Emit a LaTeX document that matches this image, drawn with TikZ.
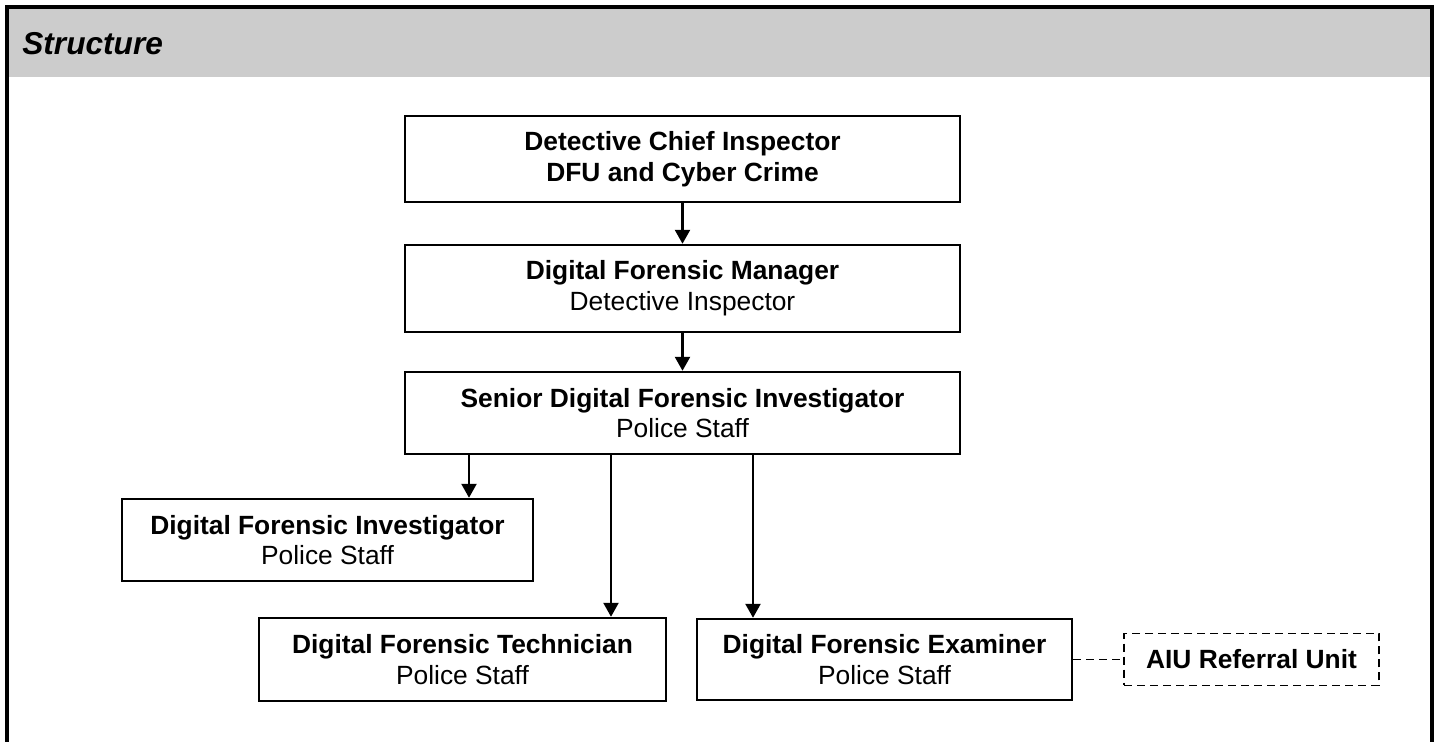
\documentclass[tikz,border=0pt]{standalone}
\usepackage{fontspec}
\setmainfont{Liberation Sans}
\usetikzlibrary{arrows.meta, positioning}
\definecolor{headgray}{RGB}{204, 204, 204}

\begin{document}
\begin{tikzpicture}[x=0.02cm, y=-0.02cm,
  orgbox/.style={draw, line width=1.4pt, align=center, inner sep=0pt, font=\fontsize{15}{17.5}\selectfont},
  linkbox/.style={draw, line width=1.1pt, dash pattern=on 0.16cm off 0.1cm, align=center, inner sep=0pt, font=\fontsize{15}{17.5}\selectfont\bfseries},
  arr/.style={-{Triangle[length=0.28cm, width=0.3cm]}, line width=1.4pt}]
  \useasboundingbox (0,0) rectangle (1437,742);

  % Frame and header
  \fill[headgray] (7,7) rectangle (1432,77);
  \draw[line width=1.8pt] (7,742) -- (7,7) -- (1432,7) -- (1432,742);
  \node[anchor=base west, inner sep=0pt, font=\fontsize{18}{21}\selectfont\bfseries\itshape] (title) at (22,55) {Structure};

  % Chain of command
  \node[orgbox, minimum width=11.1cm, minimum height=1.72cm] (dci) at (682.5,159) {\textbf{Detective Chief Inspector}\\\textbf{DFU and Cyber Crime}};
  \node[orgbox, minimum width=11.1cm, minimum height=1.74cm] (dfm) at (682.5,288.5) {\textbf{Digital Forensic Manager}\\Detective Inspector};
  \node[orgbox, minimum width=11.1cm, minimum height=1.64cm] (sdfi) at (682.5,413) {\textbf{Senior Digital Forensic Investigator}\\Police Staff};

  % Staff
  \node[orgbox, minimum width=8.22cm, minimum height=1.64cm] (dfi) at (327.5,540) {\textbf{Digital Forensic Investigator}\\Police Staff};
  \node[orgbox, minimum width=8.14cm, minimum height=1.66cm] (dft) at (462.5,659.5) {\textbf{Digital Forensic Technician}\\Police Staff};
  \node[orgbox, minimum width=7.5cm, minimum height=1.62cm] (dfe) at (884.5,659.5) {\textbf{Digital Forensic Examiner}\\Police Staff};
  \node[linkbox, minimum width=5.1cm, minimum height=1.04cm] (aiu) at (1251.5,659.5) {AIU Referral Unit};

  % Arrows
  \draw[arr] (dci) -- (dfm);
  \draw[arr] (dfm) -- (sdfi);
  \coordinate (tapA) at (469,0);
  \coordinate (tapB) at (611,0);
  \coordinate (tapC) at (753,0);
  \draw[arr] (sdfi.south -| tapA) -- (dfi.north -| tapA);
  \draw[arr] (sdfi.south -| tapB) -- (dft.north -| tapB);
  \draw[arr] (sdfi.south -| tapC) -- (dfe.north -| tapC);

  % Referral link
  \draw[line width=1.1pt, dash pattern=on 0.16cm off 0.1cm] (dfe.east) -- (aiu.west);
\end{tikzpicture}
\end{document}
